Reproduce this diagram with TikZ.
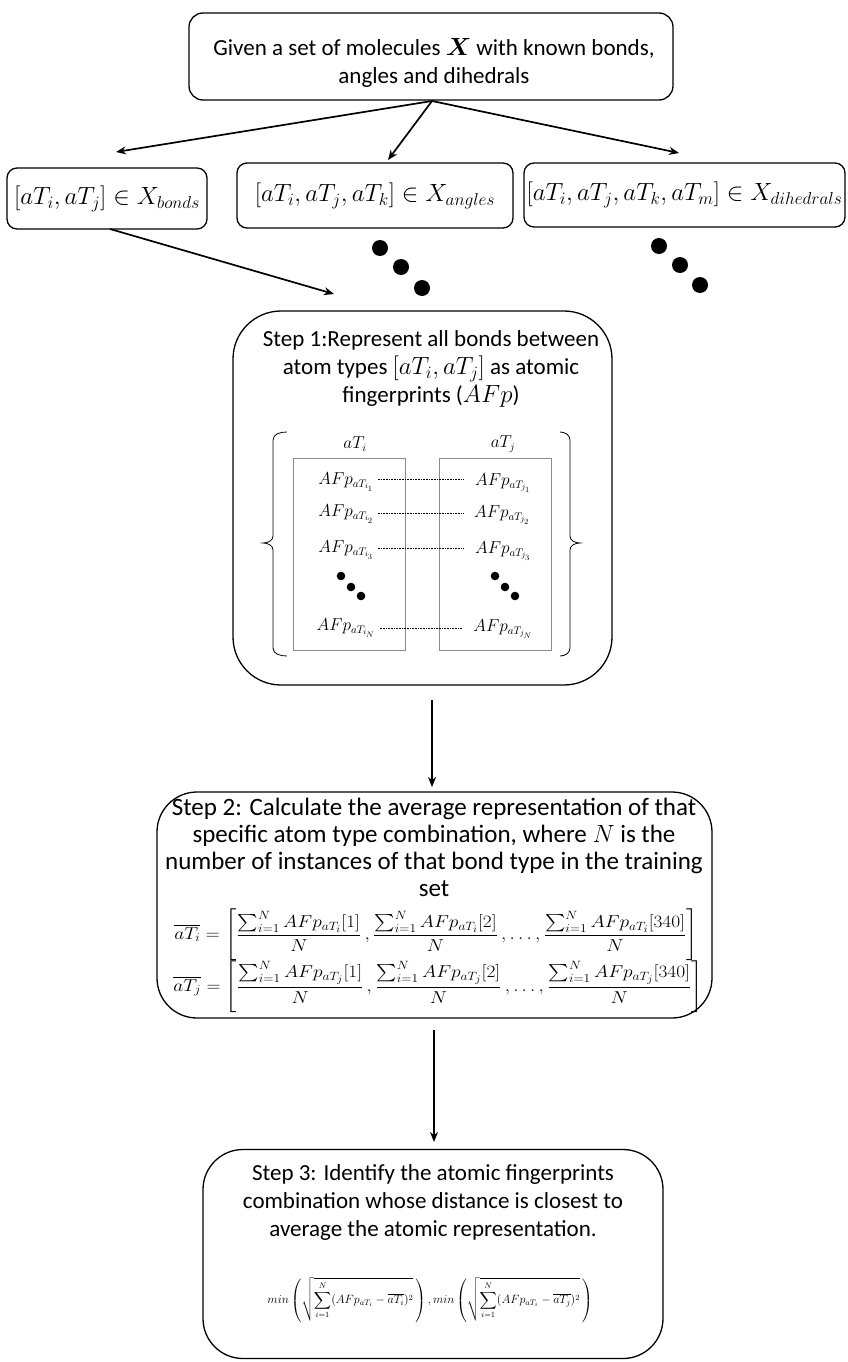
\documentclass[tikz,border=0pt]{standalone}
\usepackage{fontspec}
\setmainfont{Carlito}
\usepackage{amsmath}
\usepackage{graphicx}
\usetikzlibrary{arrows.meta}

\begin{document}
\begin{tikzpicture}[x=1pt,y=-1pt,
  box/.style={draw, line width=1.3pt, inner sep=0pt},
  arr/.style={line width=1.7pt, -{Stealth[length=10pt,width=8pt]}},
  txt/.style={align=center, inner sep=0pt, font=\fontsize{23}{28}\selectfont},
  bigtxt/.style={align=center, inner sep=0pt, font=\fontsize{25}{26.8}\selectfont},
  col/.style={draw=black!45, line width=0.7pt, inner sep=0pt, minimum width=112pt, minimum height=192pt},
  afp/.style={inner sep=0pt, font=\fontsize{16}{18}\selectfont},
  link/.style={dash pattern=on 1pt off 0.6pt, line width=0.5pt, shorten <=4pt, shorten >=11pt},
  dot/.style={fill=black, draw=none},
  brk/.style={line width=0.8pt},
  eqn/.style={inner sep=0pt, font=\fontsize{17.28}{20}\selectfont}
]
\useasboundingbox (0,0) rectangle (847,1362);

% --- input set ---
\node[box, rounded corners=14pt, minimum width=484pt, minimum height=87pt] (given) at (431,56.5) {};
\node[txt] (giventxt) at (434,63) {Given a set of molecules $\boldsymbol{X}$ with known bonds,\\ angles and dihedrals};

% --- the three interaction kinds ---
\node[box, rounded corners=10pt, minimum width=200pt, minimum height=61pt] (bonds) at (107,198.5)
  {\fontsize{26.5}{30}\selectfont $[aT_i, aT_j] \in X_{bonds}$};
\node[box, rounded corners=10pt, minimum width=276pt, minimum height=65pt] (angles) at (375,195.5)
  {\fontsize{26.5}{30}\selectfont $[aT_i, aT_j, aT_k] \in X_{angles}$};
\node[box, rounded corners=10pt, minimum width=321pt, minimum height=64pt] (dihed) at (684.5,195)
  {\fontsize{26}{30}\selectfont $[aT_i, aT_j, aT_k, aT_m] \in X_{dihedrals}$};

\coordinate (src) at (432,101);
\coordinate (tipb) at (116,152);
\coordinate (tipa) at (388,160);
\coordinate (tipd) at (679,153);
\draw[arr] (src) -- (tipb);
\draw[arr] (src) -- (tipa);
\draw[arr] (src) -- (tipd);

% continuation dots
\fill[dot] (380,248) circle (8);
\fill[dot] (401,267) circle (8);
\fill[dot] (422,288) circle (8);
\fill[dot] (659,246) circle (8);
\fill[dot] (680,265) circle (8);
\fill[dot] (700,285) circle (8);

\coordinate (bondsout) at (110,229);
\coordinate (s1in) at (334,294);
\draw[arr] (bondsout) -- (s1in);

% --- step 1 ---
\node[box, rounded corners=48pt, minimum width=379pt, minimum height=374pt] (step1) at (422.5,498) {};
\node[txt] (step1txt) at (431,369) {Step 1:Represent all bonds between\\ atom types $[aT_i, aT_j]$ as atomic\\ fingerprints ($AFp$)};

\draw[brk] (287,432) to[out=180,in=90] (273,440) -- (273,536) to[out=-90,in=0] (263,543)
  to[out=0,in=90] (273,550) -- (273,648) to[out=-90,in=180] (287,656);
\draw[brk] (560,432) to[out=0,in=90] (570,440) -- (570,536) to[out=-90,in=180] (580,543)
  to[out=180,in=90] (570,550) -- (570,648) to[out=-90,in=0] (560,656);

\node[col] (coli) at (349,554) {};
\node[col] (colj) at (495,554) {};
\node[afp] (hi) at (355,444) {$aT_i$};
\node[afp] (hj) at (503,444) {$aT_j$};

\node[afp] (i1) at (346,482) {$AFp_{aT_{i_1}}$};
\node[afp] (i2) at (346,514) {$AFp_{aT_{i_2}}$};
\node[afp] (i3) at (346,550) {$AFp_{aT_{i_3}}$};
\node[afp] (iN) at (346,628) {$AFp_{aT_{i_N}}$};
\node[afp] (j1) at (503,483) {$AFp_{aT_{j_1}}$};
\node[afp] (j2) at (502,515) {$AFp_{aT_{j_2}}$};
\node[afp] (j3) at (503,551) {$AFp_{aT_{j_3}}$};
\node[afp] (jN) at (503,629) {$AFp_{aT_{j_N}}$};

\draw[link] (i1.east |- 0,479) -- (j1.west |- 0,479);
\draw[link] (i2.east |- 0,513) -- (j2.west |- 0,513);
\draw[link] (i3.east |- 0,548) -- (j3.west |- 0,548);
\draw[link] (iN.east |- 0,628) -- (jN.west |- 0,628);

\fill[dot] (341,576) circle (4.3);
\fill[dot] (351,587) circle (4.3);
\fill[dot] (361,596) circle (4.3);
\fill[dot] (495,576) circle (4.3);
\fill[dot] (505,587) circle (4.3);
\fill[dot] (515,596) circle (4.3);

\coordinate (a1s) at (432,700);
\coordinate (a1e) at (432,787);
\draw[arr] (a1s) -- (a1e);

% --- step 2 ---
\node[box, rounded corners=40pt, minimum width=555pt, minimum height=226pt] (step2) at (434.5,905) {};
\node[bigtxt] (step2txt) at (434,847.5) {Step 2: Calculate the average representation of that\\ specific atom type combination, where $N$ is the\\ number of instances of that bond type in the training\\ set};
\node[eqn] (avgi) at (436,935)
  {\scalebox{1.12}[1]{$\displaystyle \overline{aT_i} = \left[\frac{\sum_{i=1}^{N} AFp_{aT_i}[1]}{N}\,,\frac{\sum_{i=1}^{N} AFp_{aT_i}[2]}{N}\,,\ldots,\frac{\sum_{i=1}^{N} AFp_{aT_i}[340]}{N}\right]$}};
\node[eqn] (avgj) at (438,987)
  {\scalebox{1.12}[1]{$\displaystyle \overline{aT_j} = \left[\frac{\sum_{i=1}^{N} AFp_{aT_j}[1]}{N}\,,\frac{\sum_{i=1}^{N} AFp_{aT_j}[2]}{N}\,,\ldots,\frac{\sum_{i=1}^{N} AFp_{aT_j}[340]}{N}\right]$}};

\coordinate (a2s) at (434,1030);
\coordinate (a2e) at (434,1142);
\draw[arr] (a2s) -- (a2e);

% --- step 3 ---
\node[box, rounded corners=40pt, minimum width=460pt, minimum height=209pt] (step3) at (433,1254) {};
\node[txt] (step3txt) at (433,1202) {Step 3: Identify the atomic fingerprints\\ combination whose distance is closest to\\ average the atomic representation.};
\node[inner sep=0pt, font=\fontsize{12}{14}\selectfont] (dist) at (430,1300)
  {$\displaystyle min\left(\sqrt{\sum_{i=1}^{N}(AFp_{aT_i}-\overline{aT_i})^2}\,\right),min\left(\sqrt{\sum_{i=1}^{N}(AFp_{aT_i}-\overline{aT_j})^2}\,\right)$};
\end{tikzpicture}
\end{document}
